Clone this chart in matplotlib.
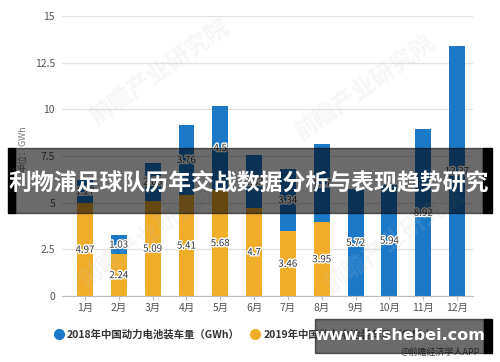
import matplotlib.pyplot as plt
from matplotlib.patches import Rectangle
from matplotlib.lines import Line2D
import matplotlib.patheffects as pe
import numpy as np

plt.rcParams['font.family'] = ['Noto Sans CJK SC', 'DejaVu Sans']

months = ['1月', '2月', '3月', '4月', '5月', '6月', '7月', '8月', '9月', '10月', '11月', '12月']
val_2019 = [4.97, 2.24, 5.09, 5.41, 5.68, 4.7, 3.46, 3.95, 0, 0, 0, 0]
val_2018 = [1.27, 1.03, 2.06, 3.76, 4.5, 2.83, 3.34, 4.17, 5.72, 5.94, 8.92, 13.37]
name_2018 = '2018年中国动力电池装车量（GWh）'
name_2019 = '2019年中国动力电池装车量（GWh）'

blue = '#1b79c8'
orange = '#f0ad29'

fig = plt.figure(figsize=(5, 3.62), dpi=100)
ax = fig.add_axes([0.124, 0.182, 0.822, 0.774])

x = np.arange(len(months))
w = 0.47
b19 = ax.bar(x, val_2019, w, color=orange, zorder=2)
b18 = ax.bar(x, val_2018, w, bottom=val_2019, color=blue, zorder=2)

halo = [pe.withStroke(linewidth=2, foreground='white')]
for i in range(len(months)):
    if val_2019[i] > 0:
        ax.text(x[i], val_2019[i] / 2, f'{val_2019[i]:g}', ha='center', va='center',
                fontsize=7, color='#333333', path_effects=halo, zorder=3)
    ax.text(x[i], val_2019[i] + val_2018[i] / 2, f'{val_2018[i]:g}', ha='center', va='center',
            fontsize=7, color='#333333', path_effects=halo, zorder=3)

ax.set_ylim(0, 15)
ax.set_xlim(-0.68, 11.47)
ax.set_yticks([0, 2.5, 5, 7.5, 10, 12.5, 15])
ax.set_yticklabels(['0', '2.5', '5', '7.5', '10', '12.5', '15'])
ax.set_xticks(x)
ax.set_xticklabels(months)
ax.grid(axis='y', color='#e3e3e3', linewidth=1, zorder=0)
for s in ['top', 'right', 'left']:
    ax.spines[s].set_visible(False)
ax.spines['bottom'].set_color('#bbbbbb')
ax.tick_params(axis='y', length=0, labelsize=7.5, labelcolor='#555555', pad=5)
ax.tick_params(axis='x', length=3, color='#bbbbbb', labelsize=7.5, labelcolor='#555555', pad=2)
fig.text(0.046, 0.59, '单位：GWh', rotation=90, ha='center', va='center', fontsize=6.5, color='#777777')

# legend
handles = [Line2D([], [], marker='o', linestyle='', color=blue, markersize=7),
           Line2D([], [], marker='o', linestyle='', color=orange, markersize=7)]
leg = fig.legend(handles, [name_2018, name_2019], loc='center', bbox_to_anchor=(0.49, 1 - 334 / 362),
                 ncol=2, frameon=False, fontsize=7.5, handletextpad=0.3, columnspacing=1.0,
                 handlelength=1.0)
for t in leg.get_texts():
    t.set_color('#333333')
    t.set_fontweight('bold')

# faint watermark
for wx, wy in [(160, 72), (365, 88), (150, 235), (395, 240)]:
    fig.text(wx / 500, 1 - wy / 362, '前瞻产业研究院', rotation=35, ha='center', va='center',
             fontsize=17, color='#c8c8c8', alpha=0.15, fontweight='bold')

fig.text(0.96, 1 - 352 / 362, '@前瞻经济学人APP', ha='right', va='center', fontsize=6.5, color='#555555')

# banner overlay
fig.patches.append(Rectangle((15 / 500, 1 - 213 / 362), 468 / 500, 65 / 362, transform=fig.transFigure,
                             color='black', alpha=0.58, zorder=5))
fig.patches.append(Rectangle((8 / 500, 1 - 213 / 362), 7 / 500, 65 / 362, transform=fig.transFigure,
                             color='black', zorder=5))
fig.patches.append(Rectangle((483 / 500, 1 - 213 / 362), 9 / 500, 65 / 362, transform=fig.transFigure,
                             color='black', zorder=5))
fig.text(0.498, 1 - 183 / 362, '利物浦足球队历年交战数据分析与表现趋势研究', ha='center', va='center',
         fontsize=16.5, color='white', fontweight='bold', zorder=6)

# site watermark
fig.patches.append(Rectangle((315 / 500, 1 - 353 / 362), 169 / 500, 34 / 362, transform=fig.transFigure,
                             color='black', alpha=0.58, zorder=5))
fig.patches.append(Rectangle((484 / 500, 1 - 353 / 362), 8 / 500, 34 / 362, transform=fig.transFigure,
                             color='black', zorder=5))
fig.text(0.80, 1 - 336 / 362, 'www.hfshebei.com', ha='center', va='center', fontsize=11.5,
         color='white', fontweight='bold', family='DejaVu Sans', zorder=6)

fig.savefig('out.png', dpi=100)
